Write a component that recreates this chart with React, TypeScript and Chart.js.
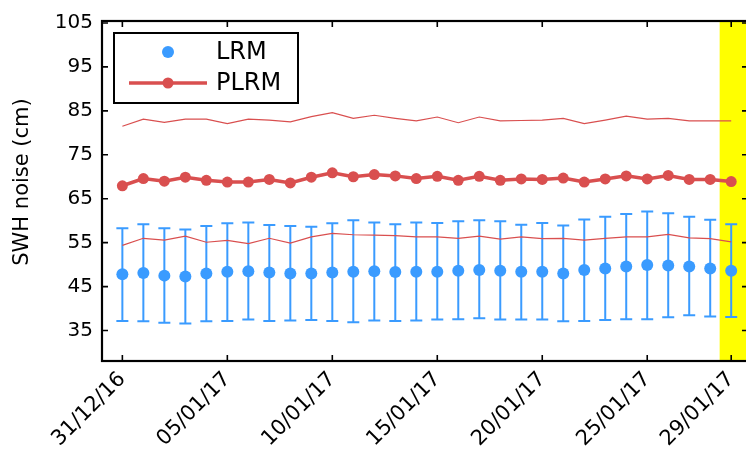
import React, { useEffect, useRef } from "react";
import { Chart, registerables } from "chart.js";

Chart.register(...registerables);

// Days since 31/12/16
const days = [0, 1, 2, 3, 4, 5, 6, 7, 8, 9, 10, 11, 12, 13, 14, 15, 16, 17, 18, 19, 20, 21, 22, 23, 24, 25, 26, 27, 28, 29];

const tickDays = [0, 5, 10, 15, 20, 25, 29];
const tickLabels = ["31/12/16", "05/01/17", "10/01/17", "15/01/17", "20/01/17", "25/01/17", "29/01/17"];
const yTicks = [35, 45, 55, 65, 75, 85, 95, 105];
const yTitle = "SWH noise (cm)";

const lrm = [47.8, 48.1, 47.5, 47.3, 48.0, 48.4, 48.5, 48.2, 48.0, 48.0, 48.2, 48.4, 48.5, 48.3, 48.4, 48.4, 48.6, 48.8, 48.6, 48.4, 48.4, 48.0, 48.8, 49.1, 49.6, 49.9, 49.8, 49.6, 49.1, 48.6];
const lrmUpper = [58.3, 59.2, 58.3, 58.0, 58.8, 59.4, 59.6, 59.0, 58.8, 58.6, 59.4, 60.1, 59.6, 59.2, 59.6, 59.5, 59.9, 60.1, 59.9, 59.1, 59.5, 58.9, 60.3, 60.9, 61.5, 62.1, 61.7, 60.9, 60.2, 59.2];
const lrmLower = [37.2, 37.1, 36.8, 36.6, 37.1, 37.2, 37.5, 37.2, 37.3, 37.4, 37.2, 36.9, 37.3, 37.2, 37.3, 37.5, 37.6, 37.8, 37.5, 37.5, 37.5, 37.1, 37.2, 37.4, 37.6, 37.6, 38.0, 38.5, 38.2, 38.1];

const plrm = [67.95, 69.6, 69.0, 69.9, 69.2, 68.8, 68.8, 69.4, 68.6, 69.9, 70.9, 70.0, 70.5, 70.2, 69.6, 70.1, 69.2, 70.1, 69.2, 69.5, 69.4, 69.7, 68.8, 69.5, 70.2, 69.5, 70.3, 69.4, 69.4, 68.9];
const plrmUpper = [81.5, 83.1, 82.4, 83.1, 83.1, 82.1, 83.1, 82.9, 82.5, 83.7, 84.6, 83.3, 84.0, 83.3, 82.7, 83.6, 82.3, 83.6, 82.7, 82.8, 82.9, 83.3, 82.1, 82.9, 83.8, 83.1, 83.3, 82.7, 82.7, 82.7];
const plrmLower = [54.4, 56.0, 55.6, 56.5, 55.1, 55.5, 54.8, 56.0, 54.9, 56.3, 57.1, 56.8, 56.7, 56.6, 56.3, 56.3, 56.0, 56.5, 55.8, 56.3, 55.9, 56.0, 55.6, 56.0, 56.3, 56.3, 56.9, 56.1, 55.9, 55.2];

const highlightStart = 28.45;

const X_MIN = -0.97;
const X_MAX = 29.8;
const Y_MIN = 28.07;
const Y_MAX = 105.45;

const BLUE = "#3a9bff";
const RED = "#d94f4f";
const FONT = "'DejaVu Sans', sans-serif";

const pts = (vals: number[]) => days.map((d, i) => ({ x: d, y: vals[i] }));

const bandPlugin = {
  id: "band",
  beforeDatasetsDraw(chart: any) {
    const { ctx, chartArea, scales } = chart;
    const x0 = scales.x.getPixelForValue(highlightStart);
    ctx.save();
    ctx.fillStyle = "#ffff00";
    ctx.fillRect(x0, chartArea.top, chartArea.right - x0, chartArea.bottom - chartArea.top);
    // error bars for LRM
    ctx.strokeStyle = BLUE;
    ctx.lineWidth = 2;
    const cap = 6;
    days.forEach((d, i) => {
      const px = scales.x.getPixelForValue(d);
      const pu = scales.y.getPixelForValue(lrmUpper[i]);
      const pl = scales.y.getPixelForValue(lrmLower[i]);
      ctx.beginPath();
      ctx.moveTo(px, pu);
      ctx.lineTo(px, pl);
      ctx.moveTo(px - cap, pu);
      ctx.lineTo(px + cap, pu);
      ctx.moveTo(px - cap, pl);
      ctx.lineTo(px + cap, pl);
      ctx.stroke();
    });
    ctx.restore();
  },
};

const framePlugin = {
  id: "frame",
  afterDraw(chart: any) {
    const { ctx, chartArea, scales } = chart;
    const { left, right, top, bottom } = chartArea;
    ctx.save();
    ctx.strokeStyle = "#000";
    ctx.lineWidth = 1.6;
    const tl = 6;
    ctx.beginPath();
    tickDays.forEach((d) => {
      const px = scales.x.getPixelForValue(d);
      ctx.moveTo(px, bottom);
      ctx.lineTo(px, bottom - tl);
      ctx.moveTo(px, top);
      ctx.lineTo(px, top + tl);
    });
    yTicks.forEach((v) => {
      const py = scales.y.getPixelForValue(v);
      ctx.moveTo(left, py);
      ctx.lineTo(left + tl, py);
      ctx.moveTo(right, py);
      ctx.lineTo(right - tl, py);
    });
    ctx.stroke();
    ctx.lineWidth = 2.2;
    ctx.strokeRect(left, top, right - left, bottom - top);

    // y-axis title
    ctx.save();
    ctx.translate(23, 182);
    ctx.rotate(-Math.PI / 2);
    ctx.fillStyle = "#000";
    ctx.font = `21px ${FONT}`;
    ctx.textAlign = "center";
    ctx.textBaseline = "middle";
    ctx.fillText(yTitle, 0, 0);
    ctx.restore();

    // legend
    const bx = left + 12;
    const by = top + 12;
    const bw = 184;
    const bh = 70;
    ctx.fillStyle = "#fff";
    ctx.fillRect(bx, by, bw, bh);
    ctx.lineWidth = 2;
    ctx.strokeStyle = "#000";
    ctx.strokeRect(bx, by, bw, bh);
    const r1 = by + 19;
    const r2 = by + 50;
    const mx = bx + 54;
    ctx.fillStyle = BLUE;
    ctx.beginPath();
    ctx.arc(mx, r1, 6, 0, Math.PI * 2);
    ctx.fill();
    ctx.strokeStyle = RED;
    ctx.lineWidth = 3.5;
    ctx.beginPath();
    ctx.moveTo(bx + 15, r2);
    ctx.lineTo(bx + 93, r2);
    ctx.stroke();
    ctx.fillStyle = RED;
    ctx.beginPath();
    ctx.arc(mx, r2, 5.5, 0, Math.PI * 2);
    ctx.fill();
    ctx.fillStyle = "#000";
    ctx.font = `24px ${FONT}`;
    ctx.textBaseline = "middle";
    ctx.textAlign = "left";
    ctx.fillText("LRM", bx + 102, r1 + 1);
    ctx.fillText("PLRM", bx + 102, r2 + 1);
    ctx.restore();
  },
};

export default function App() {
  const ref = useRef<HTMLCanvasElement>(null);
  useEffect(() => {
    const canvas = ref.current!;
    const chart = new Chart(canvas, {
      type: "line",
      data: {
        datasets: [
          {
            label: "LRM",
            data: pts(lrm),
            showLine: false,
            pointRadius: 6,
            pointBackgroundColor: BLUE,
            pointBorderColor: BLUE,
            pointBorderWidth: 0,
            borderColor: BLUE,
            order: 0,
          },
          {
            label: "PLRM",
            data: pts(plrm),
            borderColor: RED,
            borderWidth: 3.5,
            pointRadius: 5.5,
            pointBackgroundColor: RED,
            pointBorderColor: RED,
            pointBorderWidth: 0,
            order: 1,
          },
          {
            label: "PLRM upper",
            data: pts(plrmUpper),
            borderColor: RED,
            borderWidth: 1.2,
            pointRadius: 0,
            order: 2,
          },
          {
            label: "PLRM lower",
            data: pts(plrmLower),
            borderColor: RED,
            borderWidth: 1.2,
            pointRadius: 0,
            order: 2,
          },
        ],
      },
      options: {
        animation: false,
        responsive: true,
        maintainAspectRatio: false,
        layout: { padding: { top: 15, right: 12, left: 0, bottom: 0 } },
        plugins: { legend: { display: false }, tooltip: { enabled: false } },
        scales: {
          x: {
            type: "linear",
            min: X_MIN,
            max: X_MAX,
            grid: { display: false, drawTicks: false },
            border: { display: false },
            afterBuildTicks: (s: any) => {
              s.ticks = tickDays.map((v) => ({ value: v }));
            },
            afterFit: (s: any) => {
              s.height = 88;
            },
            ticks: {
              autoSkip: false,
              minRotation: 45,
              maxRotation: 45,
              padding: 6,
              color: "#000",
              font: { family: FONT, size: 21 },
              callback: (_v: any, i: number) => tickLabels[i],
            },
          },
          y: {
            min: Y_MIN,
            max: Y_MAX,
            grid: { display: false, drawTicks: false },
            border: { display: false },
            afterBuildTicks: (s: any) => {
              s.ticks = yTicks.map((v) => ({ value: v }));
            },
            afterFit: (s: any) => {
              s.width = 102;
            },
            ticks: {
              padding: 9,
              color: "#000",
              font: { family: FONT, size: 20 },
              callback: (v: any) => String(v),
            },
          },
        },
      },
      plugins: [bandPlugin, framePlugin],
    });
    return () => chart.destroy();
  }, []);
  return (
    <div style={{ position: "fixed", left: 0, top: 0, width: 746, height: 449, overflow: "hidden", background: "#fff" }}>
      <div style={{ position: "relative", width: 760, height: 449 }}>
        <canvas ref={ref} />
      </div>
    </div>
  );
}
